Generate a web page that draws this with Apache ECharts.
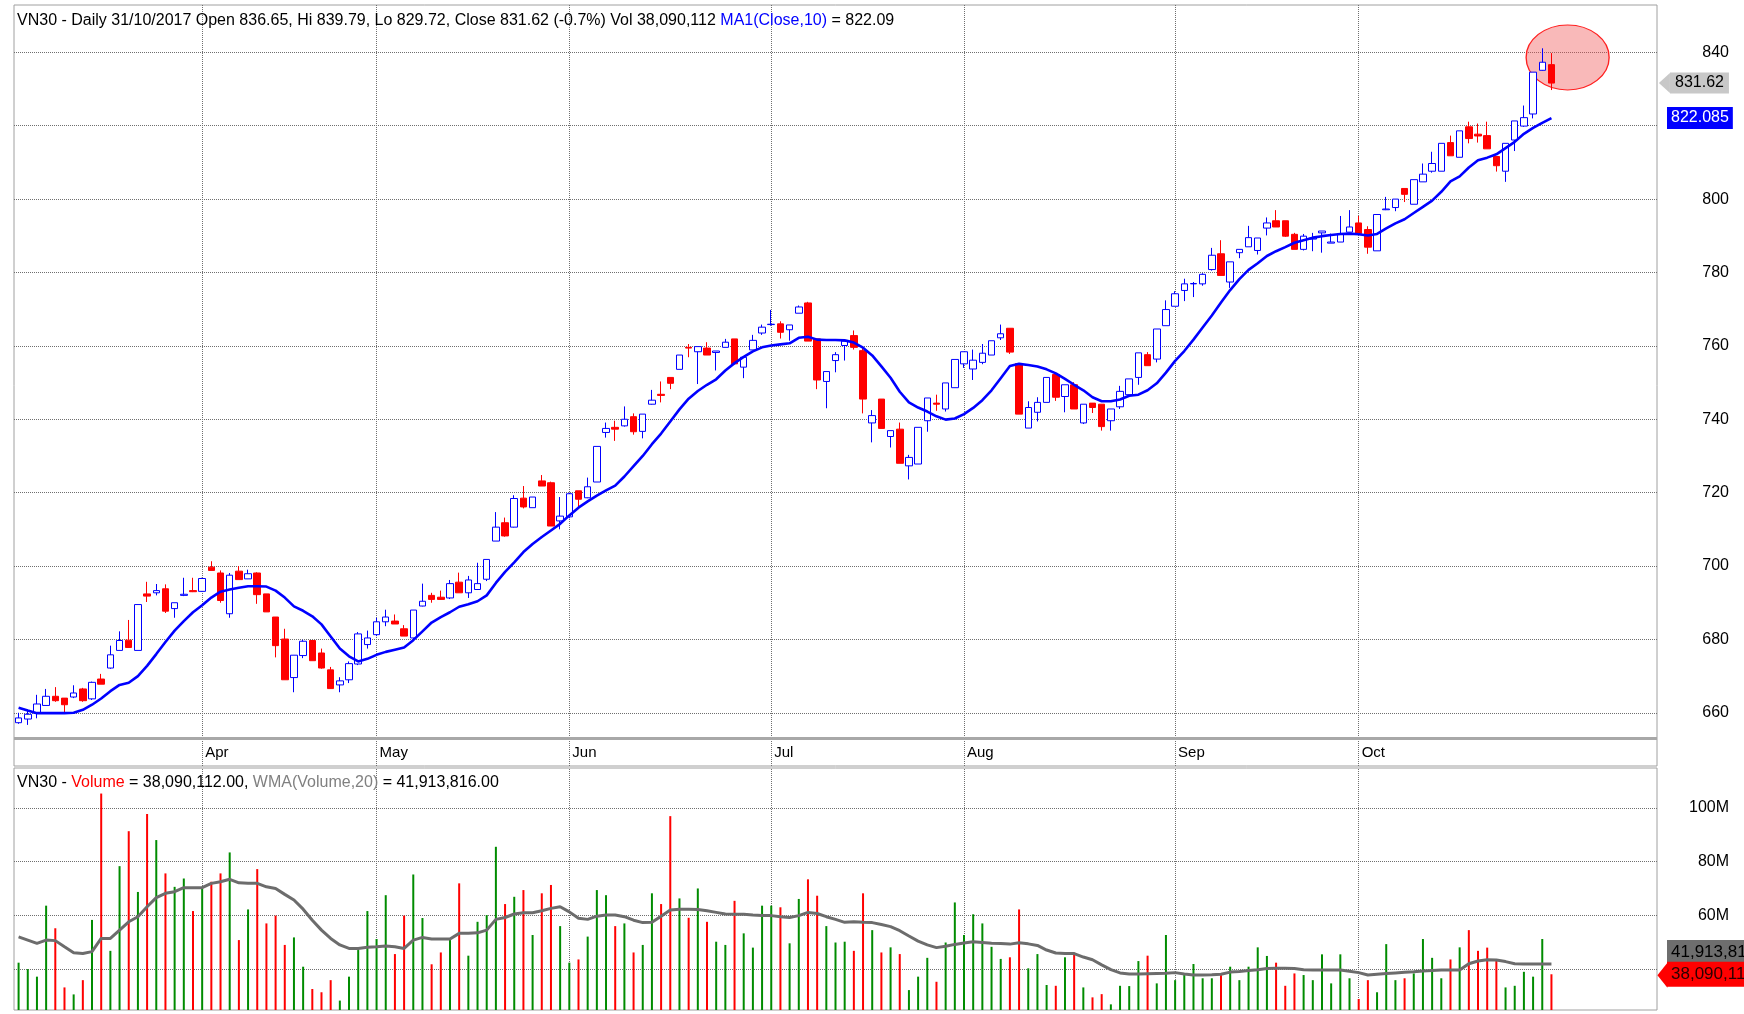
<!DOCTYPE html>
<html>
<head>
<meta charset="utf-8">
<title>VN30 Daily</title>
<script src="https://cdn.jsdelivr.net/npm/echarts@6.0.0/dist/echarts.min.js"></script>
<style>
    html, body { margin: 0; padding: 0; background: #fff; }
    #chart { width: 1744px; height: 1014px; }
</style>
</head>
<body>
<div id="chart"></div>
<script>
// trading days of 2017, one list per month (Mar..Oct)
const monthNames = ['Mar', 'Apr', 'May', 'Jun', 'Jul', 'Aug', 'Sep', 'Oct'];
const monthDays = [
    [6, 7, 8, 9, 10, 13, 14, 15, 16, 17, 20, 21, 22, 23, 24, 27, 28, 29, 30, 31],
    [3, 4, 5, 7, 10, 11, 12, 13, 14, 17, 18, 19, 20, 21, 24, 25, 26, 27, 28],
    [3, 4, 5, 8, 9, 10, 11, 12, 15, 16, 17, 18, 19, 22, 23, 24, 25, 26, 29, 30, 31],
    [1, 2, 5, 6, 7, 8, 9, 12, 13, 14, 15, 16, 19, 20, 21, 22, 23, 26, 27, 28, 29, 30],
    [3, 4, 5, 6, 7, 10, 11, 12, 13, 14, 17, 18, 19, 20, 21, 24, 25, 26, 27, 28, 31],
    [1, 2, 3, 4, 7, 8, 9, 10, 11, 14, 15, 16, 17, 18, 21, 22, 23, 24, 25, 28, 29, 30, 31],
    [1, 5, 6, 7, 8, 11, 12, 13, 14, 15, 18, 19, 20, 21, 22, 25, 26, 27, 28, 29],
    [2, 3, 4, 5, 6, 9, 10, 11, 12, 13, 16, 17, 18, 19, 20, 23, 24, 25, 26, 27, 30, 31]
];

const openP = [
    657.3, 658.3, 659.9, 662.0, 664.5, 664.0, 664.3, 666.5, 663.8, 669.2,
    672.2, 677.0, 679.8, 677.0, 692.4, 692.7, 693.8, 688.4, 692.0, 693.3,
    693.1, 699.7, 698.1, 687.0, 698.6, 696.5, 698.1, 692.4, 686.1, 680.1,
    669.6, 675.6, 679.7, 676.3, 671.7, 667.6, 669.0, 673.3, 678.6, 681.3,
    684.8, 685.0, 682.9, 680.4, 689.1, 692.0, 691.5, 691.3, 695.6, 692.7,
    693.6, 696.4, 706.8, 711.8, 710.6, 718.5, 715.9, 723.2, 722.7, 712.3,
    713.4, 720.5, 718.6, 722.9, 736.4, 737.8, 738.2, 740.7, 736.7, 744.1,
    746.8, 751.4, 753.6, 759.6, 758.4, 759.4, 758.2, 759.6, 761.9, 754.2,
    758.9, 763.5, 765.8, 766.0, 764.4, 768.9, 771.7, 761.9, 750.3, 756.0,
    760.1, 762.8, 758.7, 739.0, 745.5, 735.3, 737.3, 727.3, 727.8, 739.6,
    744.4, 742.8, 748.6, 755.1, 753.7, 755.5, 757.5, 762.2, 764.8, 755.2,
    737.6, 741.9, 744.6, 752.2, 746.2, 749.4, 739.0, 744.4, 744.1, 739.6,
    743.4, 746.7, 751.4, 757.6, 756.4, 765.5, 770.8, 775.1, 776.9, 776.9,
    780.8, 785.1, 777.4, 785.4, 787.0, 786.0, 792.1, 794.1, 794.1, 790.4,
    786.3, 789.1, 790.8, 788.0, 788.3, 791.0, 793.5, 791.7, 785.9, 797.1,
    797.7, 802.9, 798.6, 804.7, 807.6, 807.6, 815.4, 811.4, 819.7, 817.7,
    817.3, 811.6, 807.6, 816.1, 819.9, 823.2, 835.1, 836.65
];
const highP = [
    660.0, 660.8, 664.9, 666.5, 667.0, 664.0, 667.5, 666.8, 668.5, 670.6,
    678.3, 682.2, 685.3, 689.5, 695.7, 695.1, 695.0, 690.0, 696.8, 696.8,
    696.8, 701.3, 698.8, 698.1, 700.0, 699.0, 698.3, 692.4, 686.1, 682.9,
    675.7, 679.9, 679.7, 677.5, 672.5, 669.7, 674.0, 682.0, 682.4, 685.9,
    688.1, 686.8, 683.9, 688.0, 695.2, 692.7, 693.3, 696.2, 698.2, 697.3,
    700.9, 701.8, 714.7, 713.2, 719.3, 721.8, 718.8, 724.8, 723.0, 718.8,
    720.0, 720.5, 724.1, 732.6, 739.1, 739.6, 743.5, 741.6, 741.4, 748.0,
    750.3, 751.4, 757.5, 760.5, 759.8, 761.0, 758.6, 761.9, 761.9, 756.9,
    763.0, 765.8, 769.8, 766.7, 765.7, 771.0, 772.0, 762.0, 753.0, 758.3,
    761.3, 764.2, 759.5, 742.5, 745.5, 736.9, 739.1, 730.3, 737.8, 745.8,
    746.7, 749.9, 756.3, 758.4, 759.0, 760.5, 761.4, 765.8, 764.8, 755.2,
    744.9, 746.0, 751.4, 752.2, 749.4, 750.1, 744.1, 744.4, 744.1, 742.8,
    749.1, 751.0, 758.1, 758.3, 764.6, 772.4, 774.9, 778.3, 777.4, 779.8,
    786.7, 788.8, 782.9, 786.3, 792.7, 789.4, 795.0, 797.0, 794.1, 790.8,
    790.5, 790.8, 791.3, 790.6, 795.4, 797.0, 795.4, 792.6, 795.8, 800.6,
    800.0, 802.9, 805.3, 809.7, 812.9, 815.2, 817.3, 818.6, 821.1, 820.6,
    821.1, 811.6, 815.2, 821.3, 825.5, 834.6, 841.1, 839.79
];
const lowP = [
    657.0, 656.7, 658.5, 662.0, 663.0, 659.9, 664.0, 663.0, 663.5, 667.8,
    672.0, 677.0, 677.8, 677.0, 690.2, 692.0, 687.2, 685.9, 691.8, 692.9,
    693.0, 698.8, 690.0, 685.9, 696.3, 696.5, 689.7, 687.5, 675.1, 669.0,
    665.6, 674.9, 674.2, 672.0, 666.5, 665.6, 668.1, 673.0, 677.5, 680.9,
    683.6, 684.2, 680.9, 679.7, 689.0, 690.0, 690.9, 691.0, 692.7, 691.3,
    693.5, 695.9, 706.8, 708.0, 710.5, 715.7, 715.9, 721.8, 710.9, 710.0,
    713.0, 715.7, 718.5, 722.9, 735.0, 734.1, 738.0, 735.8, 734.8, 744.0,
    744.6, 748.2, 753.6, 756.9, 749.6, 757.5, 753.3, 759.6, 755.0, 751.2,
    758.9, 763.0, 765.5, 762.0, 761.4, 768.9, 761.3, 748.2, 743.0, 752.8,
    756.0, 759.0, 741.6, 733.7, 737.5, 732.3, 728.0, 723.6, 727.8, 736.6,
    742.3, 742.1, 748.6, 754.0, 750.7, 755.0, 757.5, 761.6, 757.8, 741.4,
    737.6, 739.4, 744.6, 745.0, 741.9, 742.8, 738.7, 741.7, 736.9, 736.9,
    742.8, 746.7, 749.4, 754.6, 755.5, 765.5, 770.8, 772.2, 773.3, 776.4,
    780.5, 779.2, 775.8, 783.9, 787.0, 784.9, 790.1, 792.4, 789.7, 786.3,
    786.0, 785.8, 785.4, 788.0, 788.3, 791.0, 790.6, 785.1, 785.9, 797.0,
    796.7, 799.2, 798.6, 804.7, 807.2, 807.6, 811.8, 811.4, 815.2, 815.4,
    813.7, 807.5, 804.7, 813.1, 819.7, 822.0, 835.0, 829.72
];
const closeP = [
    658.6, 659.6, 662.4, 664.5, 663.3, 662.2, 665.4, 663.3, 668.3, 667.8,
    675.8, 679.7, 677.8, 689.5, 691.8, 693.3, 687.7, 690.0, 692.3, 693.0,
    696.6, 698.8, 690.6, 697.5, 696.3, 697.9, 692.2, 687.5, 678.3, 669.0,
    675.7, 679.5, 674.2, 672.2, 666.6, 668.7, 673.4, 681.5, 680.4, 684.8,
    686.1, 684.2, 680.9, 688.0, 690.4, 690.9, 690.9, 695.2, 692.7, 696.2,
    695.2, 701.8, 710.6, 708.2, 718.4, 716.1, 718.8, 721.8, 710.9, 713.6,
    719.7, 718.2, 721.6, 732.6, 737.5, 737.3, 740.0, 736.6, 741.4, 745.2,
    746.5, 749.8, 757.5, 759.4, 759.8, 757.5, 758.6, 761.0, 755.1, 756.9,
    761.5, 765.1, 765.9, 763.7, 765.7, 770.6, 761.3, 750.7, 753.0, 757.6,
    761.3, 759.6, 745.5, 741.0, 737.5, 736.9, 728.0, 729.6, 737.8, 745.8,
    744.1, 749.9, 756.3, 758.4, 756.1, 758.0, 761.4, 763.3, 758.3, 741.4,
    743.2, 744.6, 751.4, 746.0, 749.4, 742.8, 744.1, 743.2, 738.0, 742.8,
    747.6, 751.0, 758.1, 754.6, 764.6, 769.9, 774.2, 776.9, 777.0, 779.5,
    784.7, 779.2, 782.9, 786.3, 789.5, 789.4, 793.5, 792.4, 789.9, 786.3,
    789.9, 789.4, 791.3, 788.3, 790.6, 792.4, 790.6, 786.9, 795.8, 797.3,
    800.0, 801.3, 805.3, 806.8, 809.7, 815.2, 811.8, 818.6, 816.5, 817.2,
    813.7, 809.1, 815.2, 821.3, 822.2, 834.6, 837.3, 831.62
];
// MA1(Close,10)
const ma10 = [
    661.4, 660.6, 659.9, 659.9, 659.9, 659.9, 660.0, 660.8, 662.2, 663.9,
    665.9, 667.6, 668.2, 670.0, 672.8, 676.0, 679.3, 682.4, 685.0, 687.4,
    689.3, 691.4, 693.0, 693.6, 694.1, 694.5, 694.5, 694.4, 693.3, 691.4,
    689.0, 687.8, 686.3, 684.1, 680.8, 677.5, 675.4, 674.0, 674.7, 675.8,
    676.6, 677.2, 677.8, 679.8, 682.2, 684.6, 686.1, 687.4, 688.9, 689.6,
    690.4, 692.0, 695.4, 698.4, 701.0, 703.8, 706.0, 707.9, 709.7, 711.5,
    713.8, 715.9, 717.6, 719.2, 720.6, 721.9, 724.4, 727.2, 730.0, 733.2,
    736.1, 739.4, 742.7, 745.6, 747.7, 749.4, 750.9, 753.3, 755.3, 757.0,
    758.5, 759.6, 760.1, 760.4, 760.7, 762.2, 762.5, 761.7, 761.6, 761.6,
    761.5, 760.9, 759.5, 757.4, 754.4, 751.3, 747.5, 744.6, 743.2, 742.1,
    740.8, 739.9, 740.2, 741.4, 743.1, 745.2, 747.9, 751.2, 754.5, 755.1,
    754.8, 754.4, 753.6, 752.5, 751.0, 749.4, 747.9, 746.0, 744.9, 744.9,
    745.4, 746.4, 746.7, 747.9, 749.8, 752.7, 755.9, 758.6, 761.7, 765.0,
    768.3, 771.8, 775.2, 778.2, 780.7, 782.5, 784.5, 785.8, 786.9, 788.1,
    788.8, 789.5, 789.9, 790.2, 790.5, 790.6, 790.4, 790.1, 790.5, 792.0,
    793.4, 794.5, 796.2, 797.9, 799.6, 802.0, 804.8, 806.2, 808.6, 810.6,
    811.3, 812.2, 813.9, 815.6, 817.8, 819.4, 820.8, 822.085
];
// volume and WMA(Volume,20), in millions
const volume = [
    42.4, 40.0, 37.2, 63.6, 55.2, 33.2, 30.6, 35.9, 58.3, 105.3,
    46.8, 78.3, 91.3, 68.7, 97.7, 88.0, 75.6, 70.6, 73.7, 61.6,
    70.6, 72.5, 75.6, 83.4, 50.8, 62.2, 77.2, 57.0, 59.9, 49.0,
    51.8, 40.9, 32.6, 31.4, 35.9, 28.3, 37.2, 47.1, 61.6, 51.2,
    67.5, 45.6, 59.9, 75.2, 59.0, 41.8, 46.2, 51.2, 71.9, 45.0,
    57.6, 60.1, 85.5, 64.2, 66.9, 69.4, 52.7, 68.2, 71.3, 56.0,
    42.4, 43.6, 52.1, 69.4, 67.5, 56.0, 57.0, 46.2, 49.0, 68.2,
    64.2, 96.9, 66.3, 59.1, 70.0, 57.6, 50.2, 49.0, 65.4, 53.3,
    48.0, 63.6, 63.6, 63.0, 49.6, 66.1, 73.4, 67.3, 56.0, 49.9,
    50.2, 46.8, 68.2, 54.5, 46.2, 48.1, 45.6, 32.2, 37.2, 44.2,
    35.3, 49.9, 64.8, 52.7, 60.4, 57.0, 48.3, 43.8, 44.4, 62.2,
    40.3, 45.6, 34.1, 33.8, 44.4, 46.1, 33.2, 29.5, 30.7, 26.9,
    33.8, 33.7, 43.0, 45.0, 34.7, 52.7, 35.9, 37.8, 41.9, 36.6,
    36.6, 37.8, 40.9, 35.9, 40.9, 48.1, 44.9, 42.4, 33.8, 38.4,
    37.8, 35.9, 45.5, 34.7, 45.5, 36.6, 28.9, 35.9, 31.4, 49.3,
    35.9, 36.6, 38.4, 51.2, 44.2, 36.6, 43.6, 48.1, 54.5, 46.8,
    48.0, 43.6, 33.2, 33.8, 39.0, 37.2, 51.2, 38.090112
];
const wma20 = [
    52.0, 50.8, 49.6, 50.8, 50.6, 48.3, 46.1, 45.8, 46.5, 51.4,
    51.4, 54.5, 57.6, 59.5, 63.2, 66.6, 68.2, 68.8, 70.3, 70.3,
    70.3, 71.9, 72.5, 73.4, 72.1, 71.9, 71.9, 70.6, 70.0, 67.8,
    65.7, 62.3, 58.2, 54.5, 51.4, 49.0, 47.7, 47.7, 48.1, 48.3,
    48.6, 48.3, 47.7, 50.8, 51.8, 51.2, 51.2, 51.2, 53.3, 53.3,
    53.5, 54.5, 58.5, 59.2, 60.5, 61.0, 61.0, 61.7, 62.6, 63.2,
    61.3, 58.9, 58.5, 59.7, 60.1, 60.1, 59.5, 58.2, 57.3, 57.4,
    59.7, 62.0, 62.3, 62.3, 62.2, 61.7, 61.1, 60.5, 60.4, 60.4,
    60.1, 59.9, 59.9, 59.5, 59.2, 59.9, 61.1, 60.7, 59.5, 58.5,
    57.4, 57.6, 57.4, 57.3, 56.6, 55.8, 54.3, 52.3, 50.4, 49.0,
    48.0, 48.5, 49.2, 49.7, 50.2, 49.9, 49.6, 49.5, 49.3, 49.8,
    49.4, 48.8, 47.1, 46.0, 45.8, 45.8, 44.5, 43.5, 41.6, 39.8,
    38.6, 38.2, 38.2, 38.3, 38.4, 38.5, 38.7, 38.2, 37.8, 37.8,
    37.9, 38.1, 38.9, 39.1, 39.5, 39.8, 40.2, 40.3, 40.3, 40.2,
    39.8, 39.7, 39.7, 39.7, 39.7, 39.2, 38.7, 37.8, 38.1, 38.4,
    38.6, 38.8, 39.0, 39.3, 39.5, 39.7, 39.7, 39.7, 42.0, 43.0,
    43.5, 43.4, 42.8, 42.0, 41.9, 41.9, 41.9, 41.913816
];

const priceTicks = [660, 680, 700, 720, 740, 760, 780, 800, 820, 840];
const volumeTicks = [40, 60, 80, 100];

const FONT = '"Liberation Sans", Arial, sans-serif';
const BLANK_SLOTS = 11;
const last = closeP.length - 1;

// category axis: one slot per trading day, plus empty slots on the right
const categories = [];
const monthLabel = {};
monthDays.forEach((days, m) => {
    days.forEach((d, k) => {
        if (k === 0 && m > 0) monthLabel[categories.length] = monthNames[m];
        categories.push(String(d).padStart(2, '0') + '/' + String(m + 3).padStart(2, '0') + '/2017');
    });
});
for (let i = 1; i <= BLANK_SLOTS; i++) categories.push('+' + i);
const monthStarts = Object.keys(monthLabel).map(Number);

const candles = openP.map((o, i) => [o, closeP[i], lowP[i], highP[i]]);
const fmtInt = (v) => Math.round(v).toLocaleString('en-US');

const gridLine = { type: 'dotted', color: '#6f6f6f', width: 1 };
const axisText = { color: '#000', fontSize: 16, fontFamily: FONT };

function tickLine(axisValue, text) {
    return {
        yAxis: axisValue,
        label: Object.assign({ show: text !== '', formatter: text, position: 'end', align: 'right', distance: 72 }, axisText)
    };
}

// coloured value tag at the right edge (line itself is invisible)
function valueBox(axisValue, text, bg, fg, extra) {
    return {
        yAxis: axisValue,
        lineStyle: { width: 0, color: 'rgba(0,0,0,0)', opacity: 1 },
        label: Object.assign({
            show: true, formatter: text, position: 'end', align: 'left', opacity: 1,
            backgroundColor: bg, color: fg, fontFamily: FONT
        }, extra)
    };
}

const monthLines = monthStarts.map((i) => ({ xAxis: i, label: { show: false } }));

const plain = { color: '#000', fontSize: 16, fontWeight: 'normal', fontFamily: FONT };

const option = {
    animation: false,
    backgroundColor: '#ffffff',
    title: [
        {
            left: 17, top: 13, padding: 0,
            text: '{k|VN30 - Daily 31/10/2017 Open 836.65, Hi 839.79, Lo 829.72, Close 831.62 (-0.7%) Vol 38,090,112 }{b|MA1(Close,10)}{k| = 822.09}',
            textStyle: {
                fontWeight: 'normal',
                rich: {
                    k: plain,
                    b: Object.assign({}, plain, { color: '#0000ff' })
                }
            }
        },
        {
            left: 17, top: 775, padding: 0,
            text: '{k|VN30 - }{r|Volume}{k| = 38,090,112.00, }{g|WMA(Volume,20)}{k| = 41,913,816.00}',
            textStyle: {
                fontWeight: 'normal',
                rich: {
                    k: plain,
                    r: Object.assign({}, plain, { color: '#ff0000' }),
                    g: Object.assign({}, plain, { color: '#808080' })
                }
            }
        }
    ],
    grid: [
        { left: 14, right: 87, top: 5, height: 761, show: true, borderColor: '#a0a0a0', borderWidth: 1 },
        { left: 14, right: 87, top: 768, height: 242, show: true, borderColor: '#a0a0a0', borderWidth: 1 }
    ],
    xAxis: [
        {
            type: 'category', gridIndex: 0, data: categories, boundaryGap: true,
            axisLine: { show: false }, axisTick: { show: false }, splitLine: { show: false },
            axisLabel: {
                inside: true, margin: 6, align: 'left', padding: [0, 0, 0, 3],
                interval: (i) => monthLabel[i] !== undefined,
                formatter: (v, i) => monthLabel[i] || '',
                color: '#000', fontSize: 15, fontFamily: FONT
            }
        },
        {
            type: 'category', gridIndex: 1, data: categories, boundaryGap: true,
            axisLine: { show: false }, axisTick: { show: false }, axisLabel: { show: false }, splitLine: { show: false }
        }
    ],
    yAxis: [
        { type: 'value', gridIndex: 0, min: 645.5, max: 852.9, show: false, splitLine: { show: false } },
        { type: 'value', gridIndex: 1, min: 24.8, max: 114.8, show: false, splitLine: { show: false } }
    ],
    series: [
        {
            name: 'VN30', type: 'candlestick', xAxisIndex: 0, yAxisIndex: 0,
            data: candles, barWidth: 7, z: 3,
            itemStyle: {
                color: '#ffffff', color0: '#ff0000',
                borderColor: '#0000ff', borderColor0: '#ff0000', borderWidth: 1
            },
            markLine: {
                silent: true, symbol: ['none', 'none'], z: 1, animation: false,
                lineStyle: gridLine,
                data: [].concat(
                    monthLines,
                    priceTicks.map((v) => tickLine(v, v === 820 ? '' : String(v))),
                    [{ yAxis: 652.95, lineStyle: { type: 'solid', color: '#a8a8a8', width: 3 }, label: { show: false } }],
                    [valueBox(closeP[last], closeP[last].toFixed(2), '#c8c8c8', '#000',
                        { fontSize: 16, distance: 13, padding: [3, 5, 2, 5] })],
                    [valueBox(ma10[last], String(ma10[last]), '#0000ff', '#ffffff',
                        { fontSize: 16, distance: 10, padding: [3, 4, 3, 4] })]
                )
            },
            markPoint: {
                silent: true, z: 5, animation: false, label: { show: false },
                data: [{
                    coord: [categories.length - 1, closeP[last]],
                    symbol: 'triangle', symbolRotate: 90, symbolSize: [20, 11], symbolOffset: [12, 0],
                    itemStyle: { color: '#c8c8c8' }
                }]
            }
        },
        {
            name: 'MA1(Close,10)', type: 'line', xAxisIndex: 0, yAxisIndex: 0,
            data: ma10, showSymbol: false, z: 4,
            lineStyle: { color: '#0000ff', width: 2.6 }
        },
        {
            // highlight around the last bars
            name: 'highlight', type: 'scatter', xAxisIndex: 0, yAxisIndex: 0, data: [],
            markPoint: {
                silent: true, z: 2, animation: false, label: { show: false },
                data: [{
                    coord: [last + 1, 838.6], symbol: 'circle', symbolSize: [83, 65], symbolOffset: [7, 0],
                    itemStyle: { color: 'rgba(240, 80, 80, 0.4)', borderColor: '#ff2020', borderWidth: 1.2 }
                }]
            }
        },
        {
            name: 'Volume', type: 'bar', xAxisIndex: 1, yAxisIndex: 1,
            data: volume, barWidth: 2, clip: true,
            itemStyle: {
                color: (p) => (closeP[p.dataIndex] >= openP[p.dataIndex] ? '#008c00' : '#ff0000')
            },
            markLine: {
                silent: true, symbol: ['none', 'none'], z: 1, animation: false,
                lineStyle: gridLine,
                data: [].concat(
                    monthLines,
                    volumeTicks.map((v) => tickLine(v, v === 40 ? '' : v + 'M')),
                    [valueBox(wma20[last], fmtInt(wma20[last] * 1e6), '#6e6e6e', '#000',
                        { fontSize: 17, distance: 10, padding: [4, 4, 3, 4], verticalAlign: 'bottom' })],
                    [valueBox(volume[last], fmtInt(volume[last] * 1e6), '#ff0000', '#2a0000',
                        { fontSize: 17, distance: 10, padding: [5, 4, 3, 4] })]
                )
            },
            markPoint: {
                silent: true, z: 5, animation: false, label: { show: false },
                data: [{
                    coord: [categories.length - 1, volume[last]],
                    symbol: 'triangle', symbolRotate: 90, symbolSize: [25, 10], symbolOffset: [10, 1],
                    itemStyle: { color: '#ff0000' }
                }]
            }
        },
        {
            name: 'WMA(Volume,20)', type: 'line', xAxisIndex: 1, yAxisIndex: 1,
            data: wma20, showSymbol: false, z: 4,
            lineStyle: { color: '#6c6c6c', width: 3 }
        }
    ]
};

const chart = echarts.init(document.getElementById('chart'));
chart.setOption(option);
</script>
</body>
</html>
